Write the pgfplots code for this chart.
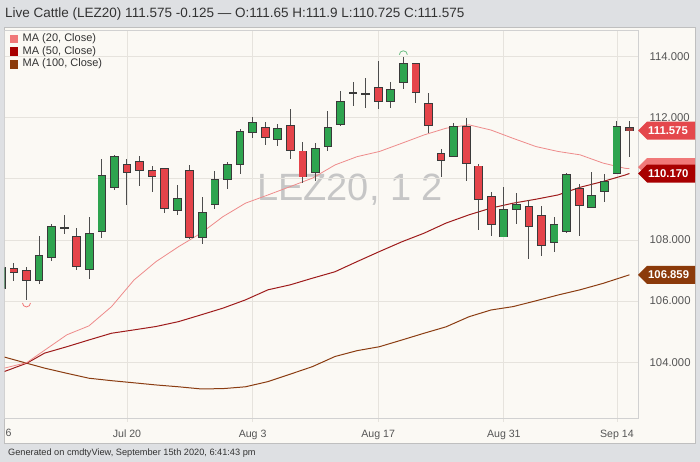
\documentclass[border=0pt]{standalone}
\usepackage{pgfplots}
\pgfplotsset{compat=1.18}
\usepackage{pgfplotstable}
\usepackage{fontspec}
\setmainfont{Liberation Sans}
\definecolor{outerbg}{HTML}{DEE0E3}
\definecolor{panelbg}{HTML}{FBF9F4}
\definecolor{gridc}{HTML}{E6E3DD}
\definecolor{upc}{HTML}{2EA44F}
\definecolor{dnc}{HTML}{E5444A}
\definecolor{lastc}{HTML}{A0403F}
\definecolor{edgec}{HTML}{3A3A3A}
\definecolor{wickc}{HTML}{4D4D4D}
\definecolor{ma20c}{HTML}{EE8B8B}
\definecolor{ma50c}{HTML}{9E1B1B}
\definecolor{ma100c}{HTML}{8B3D12}
\definecolor{ma20l}{HTML}{F07878}
\definecolor{ma50l}{HTML}{A80000}
\definecolor{ma100l}{HTML}{8B3A0A}
\definecolor{pricec}{HTML}{E4474C}
\definecolor{txtc}{HTML}{333333}
\definecolor{tickc}{HTML}{555555}
\definecolor{wmc}{HTML}{C6C6C6}

\pgfdeclareplotmark{arcdn}{\pgfpathmoveto{\pgfqpoint{-4pt}{0pt}}\pgfpatharc{180}{360}{4pt}\pgfusepathqstroke}
\pgfdeclareplotmark{arcup}{\pgfpathmoveto{\pgfqpoint{4pt}{0pt}}\pgfpatharc{0}{180}{4pt}\pgfusepathqstroke}

\pgfplotstableread{
x o h l c
-10 106.43 107.20 106.30 107.08
-7 106.69 108.14 106.56 107.48
-6 107.45 108.51 107.31 108.42
-5 108.38 108.82 108.20 108.38
-3 107.04 108.74 106.72 108.19
-2 108.30 110.65 108.05 110.09
-1 109.74 110.78 109.63 110.70
4 108.98 109.79 108.81 109.34
6 108.09 109.40 107.87 108.89
7 109.17 110.26 109.00 109.96
8 110.00 110.56 109.66 110.45
9 110.47 111.63 110.15 111.54
10 111.52 112.03 111.32 111.81
12 111.29 111.78 111.07 111.63
15 110.23 111.18 109.91 110.96
16 111.07 112.23 110.91 111.65
17 111.78 112.88 111.73 112.51
18 112.79 113.17 112.38 112.79
19 112.78 113.28 112.32 112.78
21 112.54 113.17 112.32 112.90
22 113.15 113.97 112.92 113.75
26 110.75 111.83 110.72 111.68
30 108.11 109.72 108.11 108.98
31 109.00 109.53 108.52 109.14
34 107.93 108.76 107.60 108.48
35 108.28 110.20 108.24 110.11
37 109.09 110.23 109.09 109.44
38 109.60 110.16 109.25 109.90
39 110.18 111.90 110.16 111.70
}\upcandles

\pgfplotstableread{
x o h l c
-9 107.06 107.24 106.66 106.94
-8 106.98 107.13 106.04 106.69
-4 108.11 108.38 107.02 107.16
0 110.44 110.64 109.13 110.23
1 110.54 110.75 109.77 110.29
2 110.25 110.42 109.56 110.10
3 110.31 110.33 108.89 109.03
5 110.25 110.45 108.04 108.08
11 111.65 111.87 111.09 111.36
13 111.73 112.28 110.64 110.93
14 110.89 111.19 109.85 110.07
20 112.96 113.85 112.28 112.54
23 113.74 113.75 112.47 112.83
24 112.43 112.79 111.51 111.76
25 110.80 110.97 110.07 110.61
27 111.68 111.98 109.93 110.51
28 110.40 110.47 108.33 109.34
29 109.40 109.56 108.13 108.51
32 109.09 109.31 107.37 108.46
33 108.77 109.11 107.48 107.83
36 109.66 109.82 108.13 109.14
}\dncandles

\pgfplotstableread{
x o h l c
40 111.65 111.90 110.725 111.575
}\lastcandle

\pgfplotsset{
  ebar/.style 2 args={forget plot, draw=none, no markers,
    error bars/.cd, y dir=both, y explicit, error mark=none,
    error bar style={draw=#1, line width=#2}},
}

\newcommand{\valtag}[4]{%
  \fill[#2] (#1) -- ++(9pt,9pt) -- ++(48pt,0pt) -- ++(0pt,-18pt) -- ++(-48pt,0pt) -- cycle;
  \node[anchor=west, inner sep=0pt, text=#4, font=\bfseries\fontsize{11.3}{12}\selectfont] at ([xshift=10pt]#1) {#3};}

\begin{document}
\begin{tikzpicture}[x=1pt,y=1pt]
\useasboundingbox (0,0) rectangle (700,462);
\fill[outerbg] (0,0) rectangle (700,462);
\fill[panelbg, draw=black!25, line width=0.6pt] (4,19) rectangle (695,435);
\node[anchor=base west, inner sep=0pt, text=txtc, font=\fontsize{13.5}{15}\selectfont] at (5,444.5)
  {Live Cattle (LEZ20) 111.575 -0.125 — O:111.65 H:111.9 L:110.725 C:111.575};
\node[anchor=base west, inner sep=0pt, text=txtc, font=\fontsize{9.2}{11}\selectfont] at (8,6)
  {Generated on cmdtyView, September 15th 2020, 6:41:43 pm};
\node[inner sep=0pt, text=wmc, font=\fontsize{38}{40}\selectfont] at (350,272) {LEZ20, 1 2};
\node[anchor=west, inner sep=0pt, text=tickc, font=\fontsize{10.6}{12}\selectfont] at (5.5,29) {6};

\begin{scope}[shift={(4.5pt,44pt)}]
\begin{axis}[
  anchor=south west, scale only axis,
  width=633.5pt, height=388pt,
  xmin=-9.75, xmax=40.68, ymin=102.18, ymax=114.86,
  axis line style={draw=black!18, line width=0.6pt},
  grid=major, grid style={draw=gridc, line width=0.8pt},
  xtick={-10,0,10,20,30,39},
  xticklabels={Jul 6,Jul 20,Aug 3,Aug 17,Aug 31,Sep 14},
  ytick={104,106,108,110,112,114},
  yticklabels={104.000,106.000,108.000,,112.000,114.000},
  xtick pos=bottom, ytick pos=right,
  tick align=outside, major tick length=3.5pt,
  xtick style={draw=gridc, line width=0.8pt},
  ytick style={draw=none},
  yticklabel pos=right,
  tick label style={text=tickc},
  yticklabel style={anchor=west, inner sep=0pt, xshift=8pt, font=\fontsize{11.3}{12}\selectfont},
  xticklabel style={font=\fontsize{10.6}{12}\selectfont, yshift=-5pt},
  legend cell align=left,
  legend style={at={(rel axis cs:0,1)}, anchor=north west, xshift=5pt, yshift=-2pt,
    draw=none, fill=none, inner sep=0pt, font=\fontsize{11}{12}\selectfont, text=txtc,
    nodes={inner sep=1.2pt, text height=8pt, text depth=2.4pt},
    /tikz/every odd column/.append style={column sep=4pt}},
]
% moving averages
\addplot[forget plot, ma100c, line width=1pt] coordinates {(-10,104.19)(-9.75,104.17)(-7.98,103.97)(-6.56,103.81)(-4.78,103.64)(-3.03,103.48)(-1.23,103.40)(0.56,103.33)(2.31,103.26)(4.11,103.20)(5.89,103.13)(7.64,103.14)(9.43,103.20)(11.23,103.37)(12.98,103.61)(14.77,103.86)(16.56,104.19)(18.31,104.38)(20.10,104.51)(21.89,104.73)(23.65,104.95)(25.40,105.16)(27.23,105.49)(28.98,105.71)(30.73,105.82)(32.56,106.01)(34.32,106.20)(36.07,106.37)(37.90,106.58)(40,106.859)};
\addplot[forget plot, ma50c, line width=1pt] coordinates {(-10,103.66)(-9.75,103.70)(-7.98,103.97)(-6.56,104.30)(-4.78,104.51)(-3.03,104.73)(-1.23,104.95)(0.56,105.06)(2.31,105.17)(4.11,105.33)(5.89,105.55)(7.64,105.77)(9.43,106.04)(11.23,106.37)(12.98,106.53)(14.77,106.75)(16.56,106.96)(18.31,107.29)(20.10,107.62)(21.89,107.94)(23.65,108.22)(25.40,108.55)(27.23,108.82)(28.98,109.04)(30.73,109.20)(32.56,109.33)(34.32,109.47)(36.07,109.72)(37.90,109.91)(39.65,110.12)(40,110.17)};
\addplot[forget plot, ma20c, line width=0.8pt] coordinates {(-10,103.78)(-9.75,103.81)(-7.98,103.99)(-4.78,104.90)(-3.03,105.19)(-1.23,105.82)(0.56,106.69)(2.31,107.29)(4.11,107.78)(5.89,108.22)(7.64,108.76)(9.43,109.20)(11.23,109.47)(12.98,109.74)(14.77,110.02)(16.56,110.45)(18.31,110.72)(20.10,110.89)(21.89,111.16)(23.65,111.43)(25.40,111.65)(27.23,111.76)(28.98,111.59)(30.73,111.32)(32.56,111.05)(34.32,110.89)(36.07,110.78)(37.90,110.51)(39.65,110.34)(40,110.33)};

% wicks
\addplot[ebar={wickc}{1pt}] table[x=x, y expr={(\thisrow{h}+\thisrow{l})/2}, y error expr={(\thisrow{h}-\thisrow{l})/2}] {\upcandles};
\addplot[ebar={wickc}{1pt}] table[x=x, y expr={(\thisrow{h}+\thisrow{l})/2}, y error expr={(\thisrow{h}-\thisrow{l})/2}] {\dncandles};
\addplot[ebar={wickc}{1pt}] table[x=x, y expr={(\thisrow{h}+\thisrow{l})/2}, y error expr={(\thisrow{h}-\thisrow{l})/2}] {\lastcandle};
% body borders
\addplot[ebar={edgec}{8.7pt}] table[x=x, y expr={(\thisrow{o}+\thisrow{c})/2}, y error expr={abs(\thisrow{o}-\thisrow{c})/2+0.03}] {\upcandles};
\addplot[ebar={edgec}{8.7pt}] table[x=x, y expr={(\thisrow{o}+\thisrow{c})/2}, y error expr={abs(\thisrow{o}-\thisrow{c})/2+0.03}] {\dncandles};
\addplot[ebar={edgec}{8.7pt}] table[x=x, y expr={(\thisrow{o}+\thisrow{c})/2}, y error expr={abs(\thisrow{o}-\thisrow{c})/2+0.03}] {\lastcandle};
% body fills
\addplot[ebar={upc}{6.9pt}] table[x=x, y expr={(\thisrow{o}+\thisrow{c})/2}, y error expr={abs(\thisrow{o}-\thisrow{c})/2}] {\upcandles};
\addplot[ebar={dnc}{6.9pt}] table[x=x, y expr={(\thisrow{o}+\thisrow{c})/2}, y error expr={abs(\thisrow{o}-\thisrow{c})/2}] {\dncandles};
\addplot[ebar={lastc}{6.9pt}] table[x=x, y expr={(\thisrow{o}+\thisrow{c})/2}, y error expr={abs(\thisrow{o}-\thisrow{c})/2}] {\lastcandle};

% high / low markers
\addplot[forget plot, only marks, mark=arcdn, mark options={draw=ma20l, line width=0.8pt}] coordinates {(-8,105.94)};
\addplot[forget plot, only marks, mark=arcup, mark options={draw=upc!70, line width=0.8pt}] coordinates {(22,114.05)};

\addlegendimage{legend image code/.code={\fill[ma20l] (0pt,-3.7pt) rectangle (7.4pt,3.7pt);}}
\addlegendentry{MA (20, Close)}
\addlegendimage{legend image code/.code={\fill[ma50l] (0pt,-3.7pt) rectangle (7.4pt,3.7pt);}}
\addlegendentry{MA (50, Close)}
\addlegendimage{legend image code/.code={\fill[ma100l] (0pt,-3.7pt) rectangle (7.4pt,3.7pt);}}
\addlegendentry{MA (100, Close)}

\coordinate (tp) at (axis cs:40.68,111.575);
\coordinate (t20) at (axis cs:40.68,110.38);
\coordinate (t50) at (axis cs:40.68,110.17);
\coordinate (t100) at (axis cs:40.68,106.859);
\end{axis}
\end{scope}
\fill[outerbg] (0,19) rectangle (3.7,435);
\valtag{tp}{pricec}{111.575}{white}
\fill[ma20l] (t20) -- ++(9pt,9pt) -- ++(48pt,0pt) -- ++(0pt,-18pt) -- ++(-48pt,0pt) -- cycle;
\valtag{t50}{ma50l}{110.170}{white}
\valtag{t100}{ma100l}{106.859}{white}
\end{tikzpicture}
\end{document}
